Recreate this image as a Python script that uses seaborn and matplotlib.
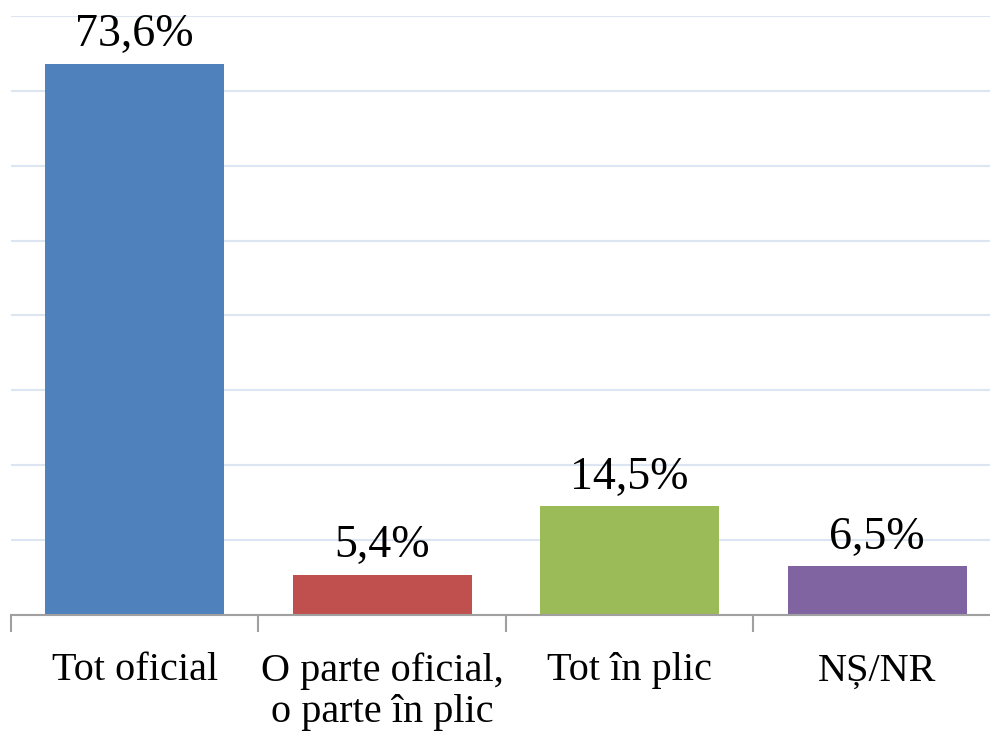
import matplotlib
matplotlib.use("Agg")
import matplotlib.pyplot as plt
import seaborn as sns
import pandas as pd
from matplotlib.ticker import FixedLocator, MultipleLocator

categories = ["Tot oficial", "O parte oficial,\no parte în plic", "Tot în plic", "NȘ/NR"]
values = [73.6, 5.4, 14.5, 6.5]
labels = ["73,6%", "5,4%", "14,5%", "6,5%"]
colors = ["#4F81BD", "#C0504D", "#9BBB59", "#8064A2"]

sns.set_theme(style="white")
plt.rcParams['font.family'] = ['Liberation Serif', 'DejaVu Serif']

df = pd.DataFrame({"cat": categories, "val": values})

fig = plt.figure(figsize=(9.9, 7.31), dpi=100)
ax = fig.add_axes([0.0111, 0.1587, 1.0, 0.8194])
sns.barplot(data=df, x="cat", y="val", hue="cat", palette=colors, width=0.723,
            legend=False, ax=ax, saturation=1, linewidth=0)

ax.set_ylim(0, 80)
ax.set_xlim(-0.5, 3.5)
ax.yaxis.set_major_locator(MultipleLocator(10))
ax.grid(axis="y", color="#DCE6F2", linewidth=1.5)
ax.set_axisbelow(True)
for s in ["left", "right", "top"]:
    ax.spines[s].set_visible(False)
ax.spines["bottom"].set_color("#A0A0A0")
ax.spines["bottom"].set_linewidth(1.5)
ax.set_yticklabels([])
ax.tick_params(axis="y", length=0)
ax.set_xlabel("")
ax.set_ylabel("")
ax.xaxis.set_minor_locator(FixedLocator([-0.5, 0.5, 1.5, 2.5, 3.5]))
ax.tick_params(axis="x", which="major", length=0, pad=27, labelsize=29, labelcolor="black")
ax.tick_params(axis="x", which="minor", length=12, width=1.5, color="#A0A0A0", bottom=True)
for t in ax.get_xticklabels():
    t.set_verticalalignment("top")
    t.set_linespacing(1.13)

for i, (v, lab) in enumerate(zip(values, labels)):
    ax.text(i, v + 1.0, lab, ha="center", va="bottom", fontsize=33, color="black")

fig.savefig("out.png", dpi=100)
